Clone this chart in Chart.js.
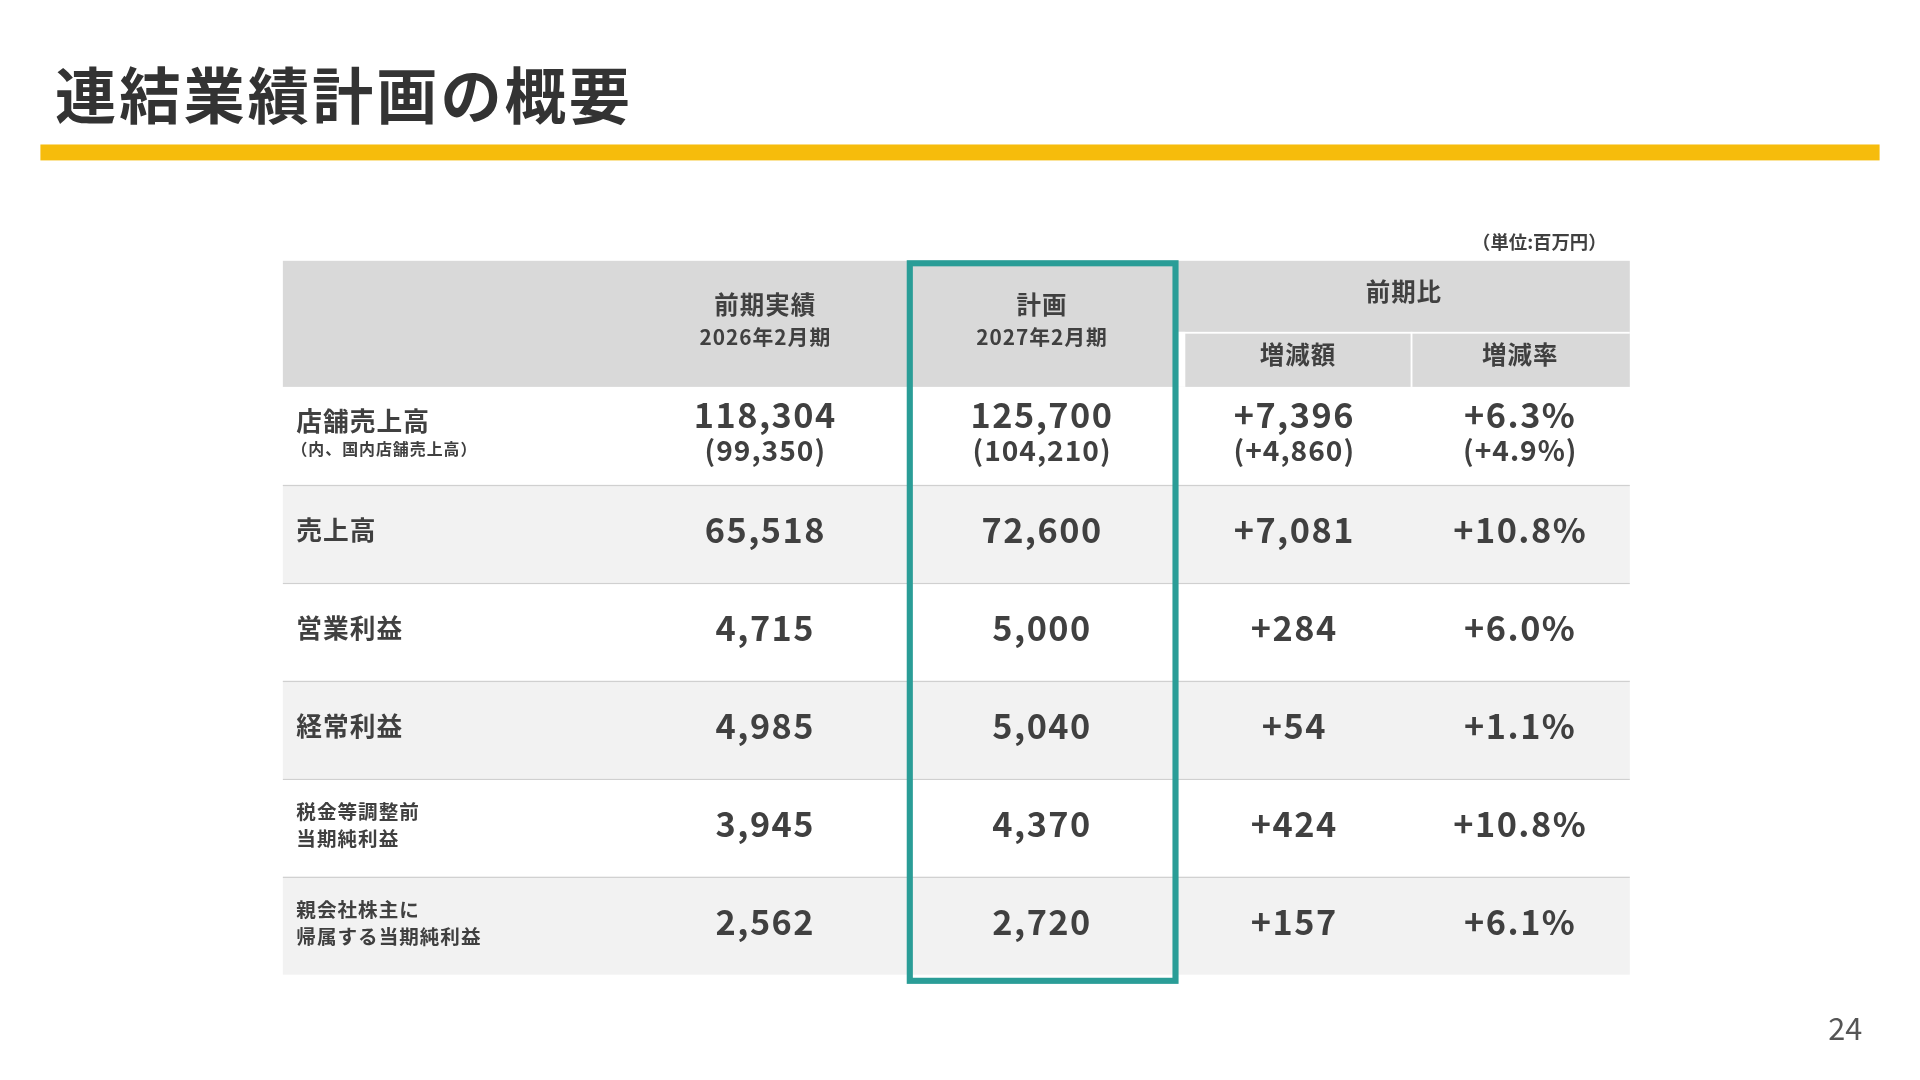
<!DOCTYPE html>
<html><head><meta charset="utf-8">
<script src="https://cdn.jsdelivr.net/npm/chart.js@4"></script>
<style>
html,body{margin:0;padding:0;background:#fff;width:1920px;height:1080px;overflow:hidden}
#c{position:absolute;left:0;top:0}
</style></head><body>
<canvas id="c" width="1920" height="1080"></canvas>
<script>
const title = "連結業績計画の概要";
const unitNote = "（単位:百万円）";
const pageNo = "24";
const colHeads = [["前期実績","2026年2月期"],["計画","2027年2月期"]];
const compHead = "前期比";
const compSub = ["増減額","増減率"];
const rowLabels = [["店舗売上高"],["売上高"],["営業利益"],["経常利益"],["税金等調整前","当期純利益"],["親会社株主に","帰属する当期純利益"]];
const rowSubLabel = "（内、国内店舗売上高）";
const prevValues = ["118,304","65,518","4,715","4,985","3,945","2,562"];
const planValues = ["125,700","72,600","5,000","5,040","4,370","2,720"];
const diffValues = ["+7,396","+7,081","+284","+54","+424","+157"];
const rateValues = ["+6.3%","+10.8%","+6.0%","+1.1%","+10.8%","+6.1%"];
const subPrev = "(99,350)", subPlan = "(104,210)", subDiff = "(+4,860)", subRate = "(+4.9%)";

// layout (reference 1568x882 units)
const K = 1920/1568;
const colX = [231,510,740,962,1152,1331];
const rowY0 = 316, rowH = 80, hdrTop = 213, hdrMid = 271;
const FONT = '"Noto Sans CJK JP","Noto Sans",sans-serif';

const tablePlugin = {
  id:'table',
  afterDraw(chart){
    const ctx = chart.ctx, xs = chart.scales.x, ys = chart.scales.y;
    const X = v=>xs.getPixelForValue(v), Y = v=>ys.getPixelForValue(v);
    const rect=(x0,y0,x1,y1,c)=>{ctx.fillStyle=c;ctx.fillRect(X(x0),Y(y0),X(x1)-X(x0),Y(y1)-Y(y0));};
    const txt=(s,x,y,size,align,color,w,sp)=>{ctx.font=(w||'bold')+' '+(size*K)+'px '+FONT;ctx.letterSpacing=(sp||0)+'px';ctx.fillStyle=color||'#404040';ctx.textAlign=align||'center';ctx.textBaseline='middle';ctx.fillText(s,X(x),Y(y));};
    ctx.save();
    txt(title,45,78,50,'left','#333333','bold',3);
    rect(33,118,1535,131,'#F6BC0C');
    txt(unitNote,1312,198,15,'right','#404040');
    rect(colX[0],hdrTop,colX[5],rowY0,'#D9D9D9');
    rect(colX[3],hdrMid,colX[5],hdrMid+1.5,'#ffffff');
    rect(colX[3],hdrMid,colX[3]+6,rowY0,'#ffffff');
    rect(colX[4],hdrMid,colX[4]+1.5,rowY0,'#ffffff');
    const cx=i=>(colX[i]+colX[i+1])/2;
    colHeads.forEach((h,i)=>{txt(h[0],cx(i+1),249,20,'center',null,'bold',1);txt(h[1],cx(i+1),275,17,'center',null,'bold',1);});
    txt(compHead,(colX[3]+colX[5])/2,238,20,'center',null,'bold',1);
    txt(compSub[0],cx(3)+3,290,20,'center',null,'bold',1);txt(compSub[1],cx(4),290,20,'center',null,'bold',1);
    for(let r=0;r<rowLabels.length;r++){
      const y0=rowY0+r*rowH, y1=y0+rowH, m=(y0+y1)/2-3;
      rect(colX[0],y0,colX[5],y1,r%2?'#F2F2F2':'#FFFFFF');
      if(r>0) rect(colX[0],y0,colX[5],y0+1,'#D0D0D0');
      const L=rowLabels[r];
      if(r===0){txt(L[0],242,344,21,'left',null,'bold',1);txt(rowSubLabel,238,367,13,'left',null,'bold',1);}
      else if(L.length===1) txt(L[0],242,m,21,'left',null,'bold',1);
      else {txt(L[0],242,m-10,16,'left',null,'bold',1);txt(L[1],242,m+12,16,'left',null,'bold',1);}
      const vals=[prevValues[r],planValues[r],diffValues[r],rateValues[r]];
      const subs=[subPrev,subPlan,subDiff,subRate];
      vals.forEach((v,i)=>{
        if(r===0){txt(v,cx(i+1),339,28,'center',null,'bold',1.5);txt(subs[i],cx(i+1),368,23,'center',null,'bold',1);}
        else txt(v,cx(i+1),m,28,'center',null,'bold',1.5);
      });
    }
    ctx.strokeStyle='#2A9D97';ctx.lineWidth=5*K;
    ctx.strokeRect(X(743),Y(215),X(960)-X(743),Y(801)-Y(215));
    txt(pageNo,1507,840,25,'center','#555555','normal');
    ctx.restore();
  }
};

new Chart(document.getElementById('c'),{
  type:'scatter',
  data:{datasets:[{data:[]}]},
  options:{
    responsive:false,animation:false,devicePixelRatio:1,
    layout:{padding:0},
    plugins:{legend:{display:false},tooltip:{enabled:false}},
    scales:{
      x:{type:'linear',min:0,max:1568,display:false},
      y:{type:'linear',min:0,max:882,reverse:true,display:false}
    }
  },
  plugins:[tablePlugin]
});
</script>
</body></html>
